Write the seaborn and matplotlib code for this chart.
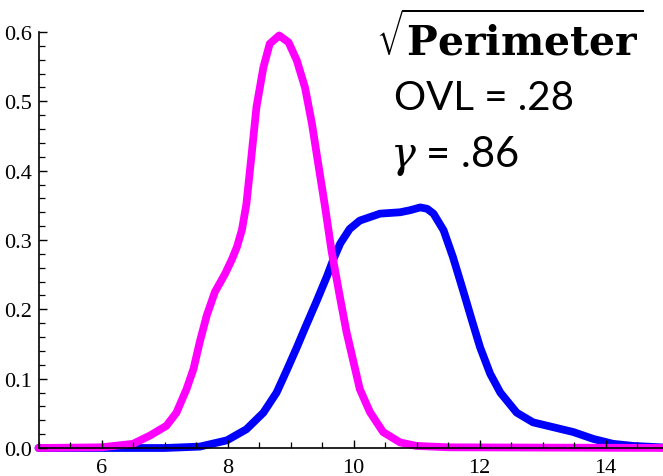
import matplotlib
matplotlib.use("Agg")
import matplotlib.pyplot as plt
import seaborn as sns
import pandas as pd
from matplotlib.ticker import MultipleLocator, FixedLocator

# --- data ---
magenta_x = [5.0, 6.0, 6.5, 6.77, 7.03, 7.19, 7.35, 7.46, 7.56, 7.67, 7.8, 7.96, 8.07, 8.15,
             8.23, 8.3, 8.38, 8.46, 8.57, 8.67, 8.82, 8.97, 9.1, 9.23, 9.34, 9.44, 9.55, 9.65,
             9.79, 9.89, 10.0, 10.1, 10.26, 10.47, 10.74, 11.0, 11.5, 15.0]
magenta_y = [0.0, 0.001, 0.006, 0.018, 0.032, 0.051, 0.085, 0.114, 0.153, 0.191, 0.225,
             0.251, 0.272, 0.29, 0.315, 0.352, 0.421, 0.492, 0.549, 0.583, 0.595, 0.585,
             0.559, 0.52, 0.468, 0.41, 0.347, 0.285, 0.215, 0.167, 0.124, 0.085, 0.052,
             0.023, 0.008, 0.003, 0.001, 0.0]
blue_x = [5.0, 7.0, 7.56, 7.99, 8.3, 8.57, 8.78, 8.94, 9.1, 9.23, 9.42, 9.58, 9.68, 9.79,
          9.94, 10.1, 10.42, 10.74, 10.9, 11.06, 11.17, 11.27, 11.43, 11.58, 11.74, 11.88,
          12.01, 12.17, 12.33, 12.59, 12.85, 13.17, 13.49, 13.81, 14.12, 14.44, 14.87, 15.0]
blue_y = [0.0, 0.0, 0.002, 0.011, 0.027, 0.051, 0.08, 0.112, 0.145, 0.173, 0.213, 0.248,
          0.272, 0.295, 0.316, 0.328, 0.338, 0.34, 0.343, 0.347, 0.345, 0.338, 0.314, 0.275,
          0.227, 0.184, 0.145, 0.107, 0.08, 0.051, 0.037, 0.030, 0.023, 0.013, 0.006,
          0.003, 0.001, 0.0]

x_ticks = [6, 8, 10, 12, 14]
x_tick_labels = ["6", "8", "10", "12", "14"]
y_ticks = [0.0, 0.1, 0.2, 0.3, 0.4, 0.5, 0.6]
y_tick_labels = ["0.0", "0.1", "0.2", "0.3", "0.4", "0.5", "0.6"]

title_text = r"$\sqrt{\mathbf{Perimeter}}$"
ovl_text = "OVL = .28"
gamma_text = r"$\gamma$ = .86"

sns.set_style("ticks")
plt.rcParams["mathtext.fontset"] = "dejavuserif"

W, H = 663, 477
fig = plt.figure(figsize=(W / 100, H / 100), dpi=100)
left_px, right_px, bottom_px, top_px = 38.5, 663, 449, 33
ax = fig.add_axes([left_px / W, (H - bottom_px) / H, (right_px - left_px) / W,
                   (bottom_px - top_px) / H])

df_b = pd.DataFrame({"x": blue_x, "y": blue_y})
df_m = pd.DataFrame({"x": magenta_x, "y": magenta_y})
sns.lineplot(data=df_b, x="x", y="y", ax=ax, color="#0000ff", linewidth=5.6,
             solid_joinstyle="round", solid_capstyle="round", clip_on=False, zorder=2)
sns.lineplot(data=df_m, x="x", y="y", ax=ax, color="#ff00ff", linewidth=5.6,
             solid_joinstyle="round", solid_capstyle="round", clip_on=False, zorder=2.1)

xmax = 5 + (right_px - left_px) / 63.0
ax.set_xlim(5, xmax)
ax.set_ylim(0, 0.6)
ax.set_xlabel("")
ax.set_ylabel("")
ax.set_axisbelow(False)

ax.xaxis.set_major_locator(FixedLocator(x_ticks))
ax.set_xticklabels(x_tick_labels)
ax.yaxis.set_major_locator(FixedLocator(y_ticks))
ax.set_yticklabels(y_tick_labels)
ax.xaxis.set_minor_locator(MultipleLocator(0.5))
ax.yaxis.set_minor_locator(MultipleLocator(0.02))

for s in ["top", "right"]:
    ax.spines[s].set_visible(False)
for s in ["left", "bottom"]:
    ax.spines[s].set_linewidth(1.2)
    ax.spines[s].set_color("black")
    ax.spines[s].set_zorder(3)

ax.tick_params(which="major", direction="in", length=6, width=1.0, colors="black",
               labelsize=16, pad=5)
ax.tick_params(which="minor", direction="in", length=4, width=0.9, colors="black")
ax.tick_params(axis="x", which="major", pad=7)
for lab in ax.get_xticklabels() + ax.get_yticklabels():
    lab.set_family("Liberation Serif")

fig.text(376 / W, 1 - 55 / H, title_text, fontsize=29.5, color="black", ha="left",
         va="baseline")
fig.text(394 / W, 1 - 110 / H, ovl_text, fontsize=29, family="Lato", color="black",
         ha="left", va="baseline")
fig.text(390 / W, 1 - 167 / H, gamma_text, fontsize=30, family="Lato", color="black",
         ha="left", va="baseline")

fig.savefig("out.png", dpi=100)
